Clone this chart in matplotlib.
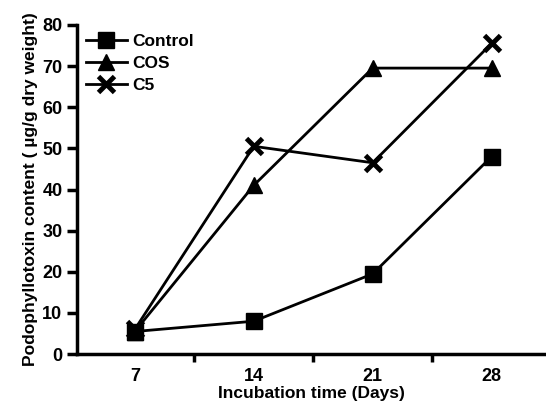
import matplotlib
matplotlib.use('Agg')
import matplotlib.pyplot as plt

# incubation days and podophyllotoxin content
days = [7, 14, 21, 28]
control = [5.5, 8, 19.5, 48]
cos = [5.5, 41, 69.5, 69.5]
c5 = [6, 50.5, 46.5, 75.5]

plt.rcParams['font.family'] = ['Liberation Sans', 'DejaVu Sans']
plt.rcParams['font.weight'] = 'bold'
plt.rcParams['axes.labelweight'] = 'bold'

fig = plt.figure(figsize=(5.46, 4.08), dpi=100)
ax = fig.add_axes([0.141, 0.132, 0.859, 0.807])

ax.plot(days, control, color='black', lw=2, marker='s', ms=12, label='Control')
ax.plot(days, cos, color='black', lw=2, marker='^', ms=12, label='COS')
ax.plot(days, c5, color='black', lw=2, marker='x', ms=12, mew=3.5, label='C5')

ax.set_xlim(3.6, 31.2)
ax.set_ylim(0, 80)
ax.set_yticks(range(0, 81, 10))
ax.set_xticks(days)
ax.set_xticks([10.5, 17.5, 24.5], minor=True)
ax.tick_params(axis='x', which='major', length=0, pad=10, labelsize=13)
ax.tick_params(axis='x', which='minor', length=6, width=2.5, direction='out')
ax.tick_params(axis='y', length=7, width=2.5, labelsize=13)

for s in ['top', 'right']:
    ax.spines[s].set_visible(False)
for s in ['left', 'bottom']:
    ax.spines[s].set_linewidth(2.5)

ax.set_xlabel('Incubation time (Days)', fontsize=12.5, labelpad=1)
ax.set_ylabel('Podophyllotoxin content ( µg/g dry weight)', fontsize=12.5, labelpad=3)

ax.legend(loc='upper left', frameon=False, fontsize=12.5, handlelength=2.4,
          borderaxespad=0.2, borderpad=0.3, labelspacing=0.4, handletextpad=0.3)

fig.savefig('out.png', dpi=100)
